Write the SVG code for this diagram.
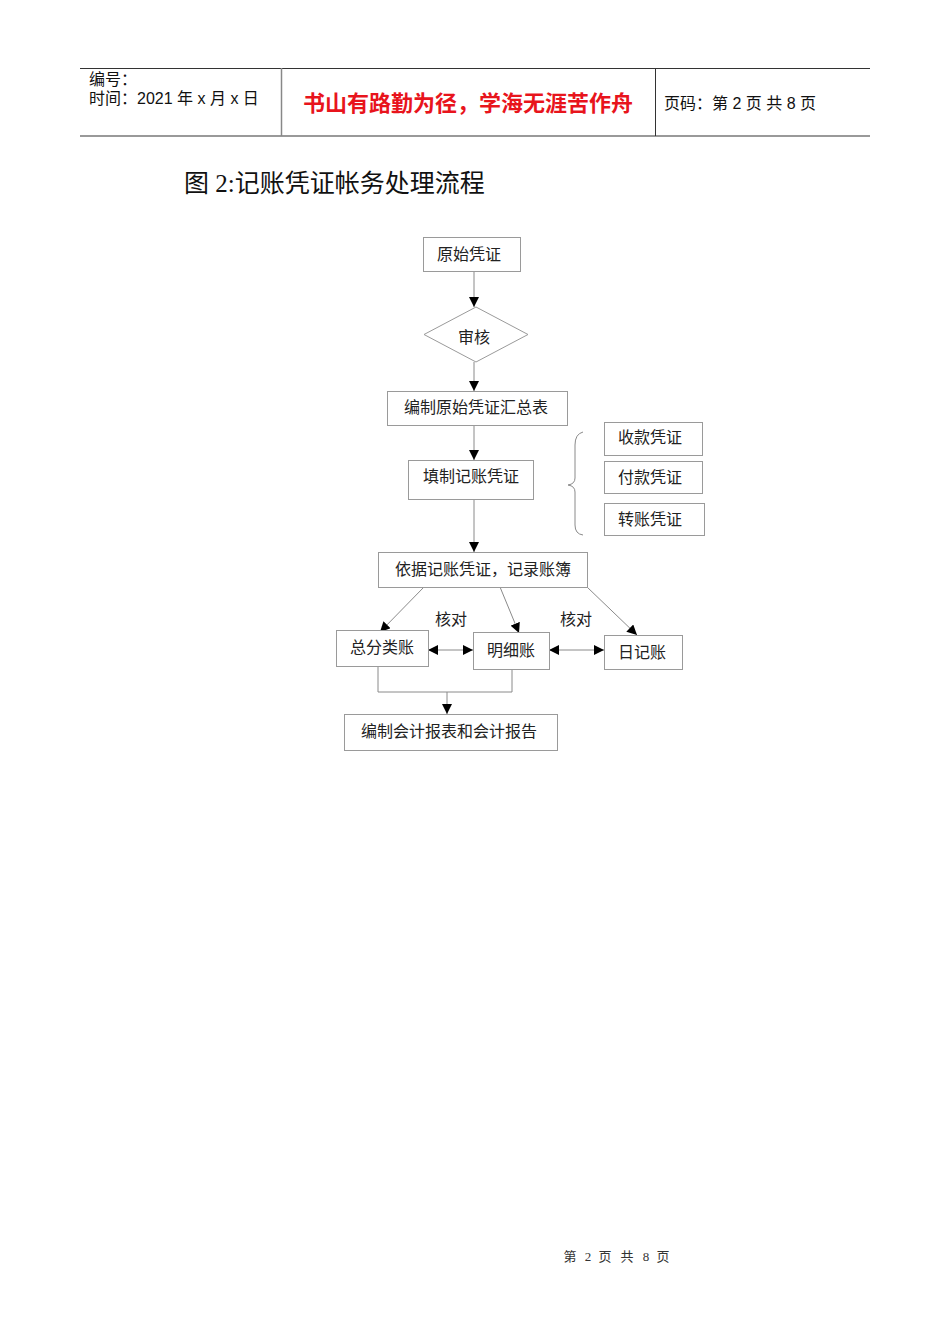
<svg xmlns="http://www.w3.org/2000/svg" width="950" height="1344" viewBox="0 0 950 1344">
<defs>
<style>
.box{fill:#fff;stroke:#9a9a9a;stroke-width:1}
.t{font-family:"Liberation Serif","Noto Sans CJK SC",serif;font-size:16px;fill:#222;text-anchor:middle}
.c{stroke:#8a8a8a;stroke-width:1;fill:none}
.h{font-family:"Liberation Sans","Noto Sans CJK SC",sans-serif;font-size:16px;fill:#111}
.f{font-family:"Liberation Serif","Noto Sans CJK SC",serif;font-size:13px;fill:#333;text-anchor:middle}
</style>
<marker id="a" viewBox="0 0 10 10" refX="10" refY="5" markerWidth="10" markerHeight="10" markerUnits="userSpaceOnUse" orient="auto-start-reverse">
<path d="M0,0 L10,5 L0,10 z" fill="#000"/>
</marker>
</defs>
<rect width="950" height="1344" fill="#fff"/>
<g id="header">
<line x1="80" y1="68.5" x2="870" y2="68.5" stroke="#333" stroke-width="1"/>
<line x1="80" y1="136" x2="870" y2="136" stroke="#999" stroke-width="2"/>
<line x1="281.5" y1="68" x2="281.5" y2="136" stroke="#888" stroke-width="1.5"/>
<line x1="655.5" y1="68" x2="655.5" y2="136" stroke="#333" stroke-width="1"/>
<text class="h" x="89" y="85">编号：</text>
<text class="h" x="89" y="104">时间：2021 年 x 月 x 日</text>
<text x="468" y="111" font-family="Liberation Sans,'Noto Sans CJK SC',sans-serif" font-size="22" font-weight="bold" fill="#e8141c" text-anchor="middle">书山有路勤为径，学海无涯苦作舟</text>
<text class="h" x="664" y="109" font-size="15.5">页码：第 2 页  共 8 页</text>
</g>
<text x="184" y="192" font-family="Liberation Serif,'Noto Sans CJK SC',serif" font-size="25" fill="#111">图 2:记账凭证帐务处理流程</text>
<g id="connectors">
<line class="c" x1="474" y1="271" x2="474" y2="307" marker-end="url(#a)"/>
<line class="c" x1="474" y1="362" x2="474" y2="391" marker-end="url(#a)"/>
<line class="c" x1="474" y1="425" x2="474" y2="460" marker-end="url(#a)"/>
<line class="c" x1="474" y1="499" x2="474" y2="552" marker-end="url(#a)"/>
<line class="c" x1="424" y1="587" x2="380" y2="632" marker-end="url(#a)"/>
<line class="c" x1="500" y1="587" x2="519" y2="633" marker-end="url(#a)"/>
<line class="c" x1="587" y1="587" x2="637" y2="635" marker-end="url(#a)"/>
<line class="c" x1="428" y1="650" x2="473" y2="650" marker-start="url(#a)" marker-end="url(#a)"/>
<line class="c" x1="549" y1="650" x2="604" y2="650" marker-start="url(#a)" marker-end="url(#a)"/>
<polyline class="c" points="378,666 378,692 512,692 512,669"/>
<line class="c" x1="447" y1="692" x2="447" y2="714" marker-end="url(#a)"/>
<path class="c" stroke="#bbb" d="M583,432 Q575,434 575,445 L575,478 Q575,484 568,485 Q575,486 575,492 L575,525 Q575,534 583,535"/>
<text class="t" x="451" y="625">核对</text>
<text class="t" x="576" y="625">核对</text>
</g>
<g id="n1"><rect class="box" x="423.5" y="237.5" width="97" height="34"/><text class="t" x="469" y="260">原始凭证</text></g>
<g id="n2"><polygon class="box" points="424,334.5 476,307 528,334.5 476,362"/><text class="t" x="474" y="343" font-size="14">审核</text></g>
<g id="n3"><rect class="box" x="387.5" y="391.5" width="180" height="34"/><text class="t" x="476" y="413">编制原始凭证汇总表</text></g>
<g id="n4"><rect class="box" x="408.5" y="460.5" width="125" height="39"/><text class="t" x="471" y="482">填制记账凭证</text></g>
<g id="n5"><rect class="box" x="378.5" y="552.5" width="209" height="35"/><text class="t" x="483" y="575">依据记账凭证，记录账簿</text></g>
<g id="n6"><rect class="box" x="604.5" y="422.5" width="98" height="33"/><text class="t" x="650" y="443">收款凭证</text></g>
<g id="n7"><rect class="box" x="604.5" y="461.5" width="98" height="32"/><text class="t" x="650" y="483">付款凭证</text></g>
<g id="n8"><rect class="box" x="604.5" y="503.5" width="100" height="32"/><text class="t" x="650" y="525">转账凭证</text></g>
<g id="n9"><rect class="box" x="336.5" y="630.5" width="92" height="36"/><text class="t" x="382" y="653">总分类账</text></g>
<g id="n10"><rect class="box" x="473.5" y="632.5" width="76" height="37"/><text class="t" x="511" y="656">明细账</text></g>
<g id="n11"><rect class="box" x="604.5" y="635.5" width="78" height="34"/><text class="t" x="642" y="658">日记账</text></g>
<g id="n12"><rect class="box" x="344.5" y="714.5" width="213" height="36"/><text class="t" x="449" y="737">编制会计报表和会计报告</text></g>
<text class="f" y="1261"><tspan x="570">第</tspan><tspan x="588">2</tspan><tspan x="605">页</tspan><tspan x="627">共</tspan><tspan x="646">8</tspan><tspan x="663">页</tspan></text>
</svg>
